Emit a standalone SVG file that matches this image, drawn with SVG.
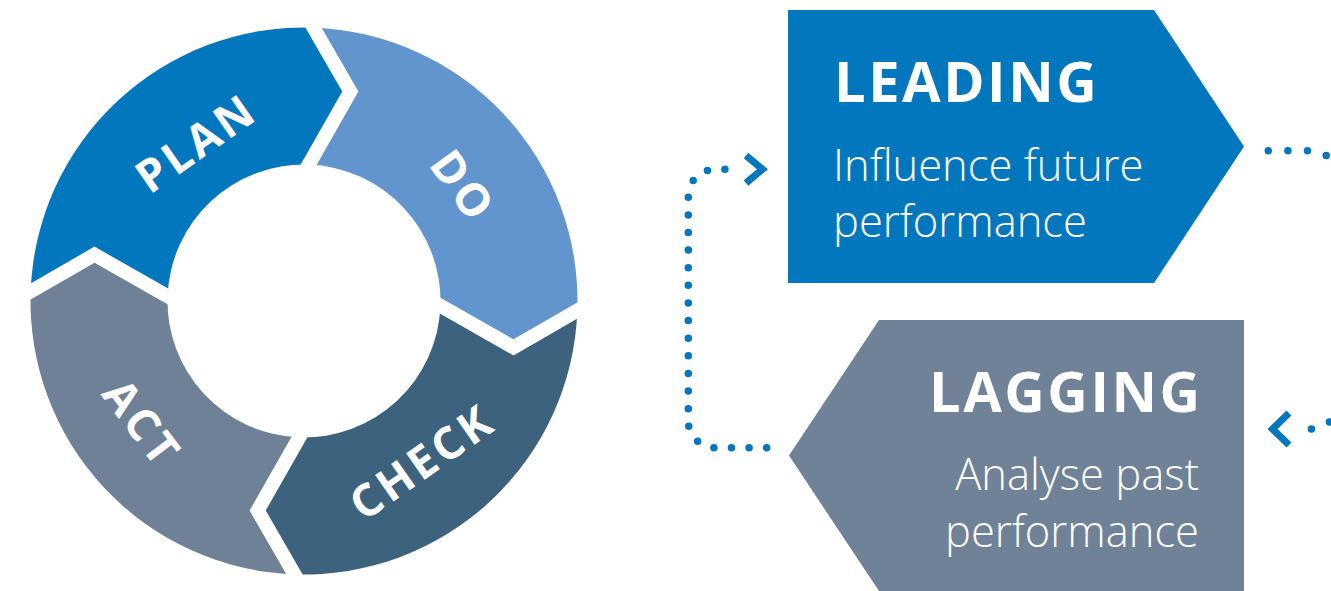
<svg xmlns="http://www.w3.org/2000/svg" width="1331" height="591" viewBox="0 0 1331 591">
<style>
  .seg-label{font-family:"Open Sans","Noto Sans","Liberation Sans",sans-serif;font-weight:700;font-size:45px;letter-spacing:3.5px;fill:#fff;text-anchor:middle}
  .gap{fill:none;stroke:#fff;stroke-width:14;stroke-linejoin:miter;stroke-miterlimit:10}
  .title{font-family:"Open Sans","Noto Sans","Liberation Sans",sans-serif;font-weight:700;font-size:56px;letter-spacing:2.5px;fill:#fff}
  .sub{font-family:"Open Sans","Noto Sans","Liberation Sans",sans-serif;font-weight:300;font-size:43.5px;fill:#fff}
  .dots{fill:none;stroke:#0377BE;stroke-width:7.5;stroke-linecap:round}
  .head{fill:none;stroke:#0377BE;stroke-width:7;stroke-linejoin:miter;stroke-linecap:butt}
</style>
<defs>
  <path id="seg" d="M577.5,301 A273.5,273.5 0 0 1 304,574.5 L265,512 L304,437.5 A136.5,136.5 0 0 0 440.5,301 L515,340 Z"/>
  <polyline id="gapline" points="587.7,294.6 515,340 429.9,295.4"/>
</defs>
<rect width="1331" height="591" fill="#fff"/>

<g id="cycle">
  <g id="plan">
    <use href="#seg" fill="#0377BE" transform="rotate(182 304 301)"/>
  </g>
  <g id="do">
    <use href="#seg" fill="#6295CD" transform="rotate(-88 304 301)"/>
  </g>
  <g id="check">
    <use href="#seg" fill="#3D627D" transform="rotate(2 304 301)"/>
  </g>
  <g id="act">
    <use href="#seg" fill="#6F8197" transform="rotate(92 304 301)"/>
  </g>
  <g id="gaps">
    <use href="#gapline" class="gap" transform="rotate(-88 304 301)"/>
    <use href="#gapline" class="gap" transform="rotate(2 304 301)"/>
    <use href="#gapline" class="gap" transform="rotate(92 304 301)"/>
    <use href="#gapline" class="gap" transform="rotate(182 304 301)"/>
  </g>
  <text class="seg-label" transform="translate(196 143) rotate(-35)" y="16">PLAN</text>
  <text class="seg-label" transform="translate(463 186) rotate(54)" y="16">DO</text>
  <text class="seg-label" transform="translate(422 462) rotate(-35)" y="16">CHECK</text>
  <text class="seg-label" transform="translate(142 423) rotate(53)" y="16">ACT</text>
</g>

<g id="leading">
  <polygon points="788,10 1154,10 1244,146.5 1154,283 788,283" fill="#0377BE"/>
  <text class="title" x="834" y="101.7">LEADING</text>
  <text class="sub" x="833" y="181">Influence future</text>
  <text class="sub" x="833" y="237.3">performance</text>
</g>

<g id="lagging">
  <polygon points="879,320 1244,320 1244,591 879,591 789,455.5" fill="#708298"/>
  <text class="title" x="1202.5" y="411.7" text-anchor="end">LAGGING</text>
  <text class="sub" x="1199" y="490" text-anchor="end">Analyse past</text>
  <text class="sub" x="1199" y="547.3" text-anchor="end">performance</text>
</g>

<g id="connectors">
  <path class="dots" stroke-dasharray="0 17.617" d="M766.7,447.7 H715 A26.7,26.7 0 0 1 688.3,421 V196 A26.7,26.7 0 0 1 715,169.3 H742"/>
  <polyline class="head" points="746,155.5 762.5,169.3 746,183"/>
  <path class="dots" stroke-dasharray="0 19.59" d="M1268.3,150.7 H1310 A30,30 0 0 1 1340,180.7 V399 A30,30 0 0 1 1310,429 H1292.3"/>
  <polyline class="head" points="1289,413 1272.5,429 1289,445"/>
</g>
</svg>
